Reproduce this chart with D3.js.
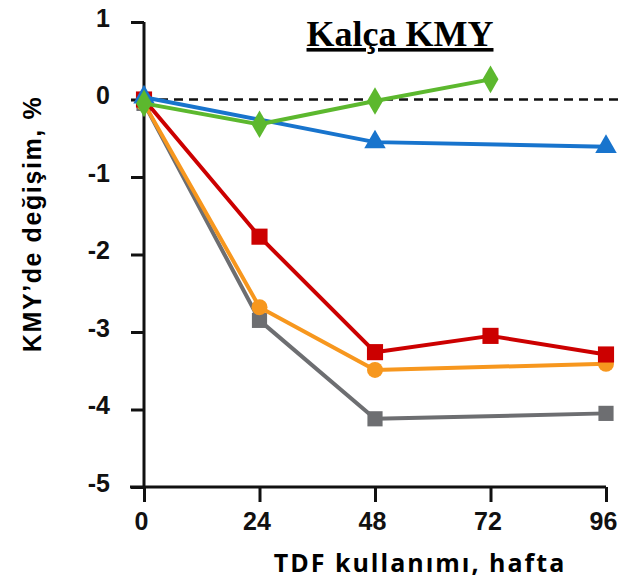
<!DOCTYPE html>
<html>
<head>
<meta charset="utf-8">
<script src="https://cdn.jsdelivr.net/npm/d3@7"></script>
<style>
  body { margin: 0; background: #fff; }
  svg { display: block; }
</style>
</head>
<body>
<script>
// weeks of TDF use
const weeks = [0, 24, 48, 72, 96]
const yTicks = [1, 0, -1, -2, -3, -4, -5]

// series values (null = no point at that week)
const grayVals = [-0.05, -2.85, -4.12, null, -4.05]
const orangeVals = [-0.05, -2.68, -3.49, null, -3.41]
const redVals = [0, -1.77, -3.26, -3.05, -3.29]
const blueVals = [0.03, null, -0.55, null, -0.61]
const greenVals = [-0.05, -0.32, -0.02, 0.26, null]

const w = 622
const h = 579

// scales
const xScale = d3.scaleLinear().domain([0, 96]).range([144, 606])
const yScale = d3.scaleLinear().domain([1, -5]).range([22, 487])

const svg = d3.select('body')
    .append('svg')
    .attr('width', w)
    .attr('height', h)

// dashed zero line
svg.append('line')
    .attr('x1', xScale(0))
    .attr('x2', w)
    .attr('y1', yScale(0))
    .attr('y2', yScale(0))
    .style('stroke', '#111')
    .style('stroke-width', 2.5)
    .style('stroke-dasharray', '9,6')

// y axis
const yAxis = d3.axisLeft(yScale).tickValues(yTicks).tickSize(13).tickPadding(21).tickFormat(d => String(d))
const gy = svg.append('g')
    .attr('transform', `translate(${xScale(0)},0)`)
    .call(yAxis)
gy.select('.domain').attr('d', `M0,${yScale(1)}V${yScale(-5) + 2}`)
gy.selectAll('.tick text').attr('dy', '0.17em')

// x axis
const xAxis = d3.axisBottom(xScale).tickValues(weeks).tickSize(15).tickPadding(10)
const gx = svg.append('g')
    .attr('transform', `translate(0,${yScale(-5)})`)
    .call(xAxis)
gx.select('.domain').attr('d', `M${xScale(0) - 14},0H${xScale(96)}`)
gx.selectAll('.tick text').attr('dx', '-3')

svg.selectAll('.domain, .tick line')
    .style('stroke', '#111')
    .style('stroke-width', 3)

svg.selectAll('.tick text')
    .style('font-family', 'Liberation Sans, Arial, sans-serif')
    .style('font-weight', 'bold')
    .style('font-size', '25px')
    .style('fill', '#111')

// y axis label
svg.append('text')
    .attr('transform', `translate(41,224) rotate(-90)`)
    .attr('text-anchor', 'middle')
    .style('font-family', 'Liberation Sans, Arial, sans-serif')
    .style('font-weight', 'bold')
    .style('font-size', '25px')
    .style('letter-spacing', '1.6px')
    .text('KMY’de değişim, %')

// x axis label
svg.append('text')
    .attr('x', 420)
    .attr('y', 572)
    .attr('text-anchor', 'middle')
    .style('font-family', 'Open Sans, sans-serif')
    .style('font-weight', 'bold')
    .style('font-size', '25px')
    .style('letter-spacing', '2px')
    .text('TDF kullanımı, hafta')

// title
svg.append('text')
    .attr('x', 400)
    .attr('y', 46)
    .attr('text-anchor', 'middle')
    .style('font-family', 'Liberation Serif, Times New Roman, serif')
    .style('font-weight', 'bold')
    .style('font-size', '36px')
    .style('text-decoration', 'underline')
    .text('Kalça KMY')

// series
const series = [
    { vals: grayVals, color: '#6d6e71', shape: d3.symbolSquare, size: 230 },
    { vals: orangeVals, color: '#f7971e', shape: d3.symbolCircle, size: 200 },
    { vals: redVals, color: '#cc0000', shape: d3.symbolSquare, size: 260 },
    { vals: blueVals, color: '#1874cd', shape: d3.symbolTriangle, size: 200 },
    { vals: greenVals, color: '#5cb82e', shape: d3.symbolDiamond, size: 220 }
]

series.forEach(s => {
    const pts = weeks.map((wk, i) => ({ x: wk, y: s.vals[i] })).filter(p => p.y !== null)
    const line = d3.line().x(d => xScale(d.x)).y(d => yScale(d.y))

    svg.append('path')
        .datum(pts)
        .attr('d', line)
        .style('fill', 'none')
        .style('stroke', s.color)
        .style('stroke-width', 4)
        .style('stroke-linejoin', 'round')

    svg.selectAll(null)
        .data(pts)
        .enter()
        .append('path')
        .attr('d', d3.symbol().type(s.shape).size(s.size))
        .attr('transform', d => `translate(${xScale(d.x)},${yScale(d.y)})`)
        .style('fill', s.color)
})
</script>
</body>
</html>
